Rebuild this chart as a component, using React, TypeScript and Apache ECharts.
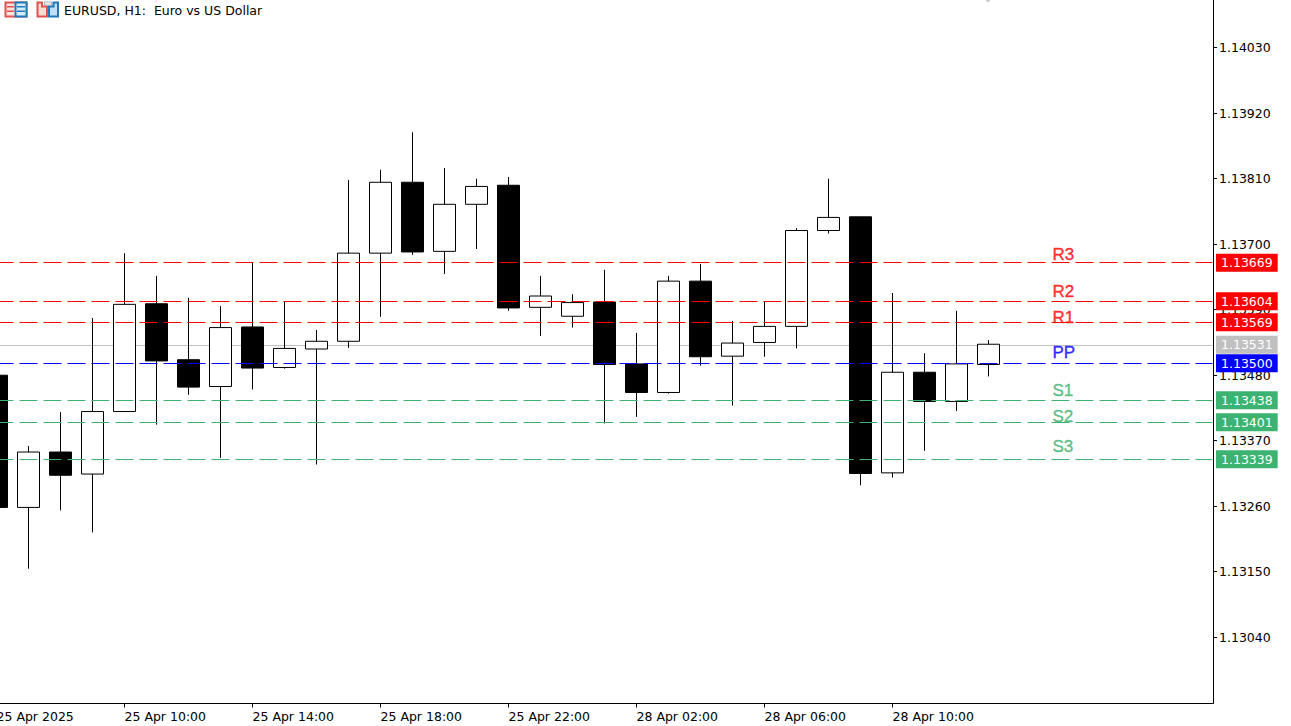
import React, { useEffect, useRef } from "react";
import * as echarts from "echarts";

const categories = [
  "25 Apr 2025", "25 Apr 07:00", "25 Apr 08:00", "25 Apr 09:00", "25 Apr 10:00", "25 Apr 11:00", "25 Apr 12:00", "25 Apr 13:00",
  "25 Apr 14:00", "25 Apr 15:00", "25 Apr 16:00", "25 Apr 17:00", "25 Apr 18:00", "25 Apr 19:00", "25 Apr 20:00", "25 Apr 21:00",
  "25 Apr 22:00", "25 Apr 23:00", "28 Apr 00:00", "28 Apr 01:00", "28 Apr 02:00", "28 Apr 03:00", "28 Apr 04:00", "28 Apr 05:00",
  "28 Apr 06:00", "28 Apr 07:00", "28 Apr 08:00", "28 Apr 09:00", "28 Apr 10:00", "28 Apr 11:00", "28 Apr 12:00", "28 Apr 13:00",
  "28 Apr 14:00", "28 Apr 15:00", "28 Apr 16:00", "28 Apr 17:00", "28 Apr 18:00", "28 Apr 19:00", "28 Apr 20:00",
];

const opens = [1.1348, 1.13258, 1.13351, 1.13314, 1.13419, 1.136, 1.13506, 1.13461, 1.13561, 1.13493, 1.13524, 1.13537, 1.13685, 1.13804, 1.13688, 1.13767, 1.13799, 1.13594, 1.13579, 1.13603, 1.13499, 1.13451, 1.13638, 1.13512, 1.13535, 1.13562, 1.13723, 1.13746, 1.13316, 1.13485, 1.13436, 1.13498];
const closes = [1.13258, 1.13351, 1.13312, 1.13419, 1.13599, 1.13504, 1.1346, 1.1356, 1.13492, 1.13525, 1.13537, 1.13685, 1.13804, 1.13687, 1.13767, 1.13797, 1.13593, 1.13613, 1.13602, 1.13498, 1.13451, 1.13638, 1.13511, 1.13534, 1.13562, 1.13723, 1.13745, 1.13315, 1.13485, 1.13436, 1.13499, 1.13532];
const lows = [1.1324, 1.13155, 1.13253, 1.13216, 1.13419, 1.13397, 1.13447, 1.13341, 1.13456, 1.13491, 1.1333, 1.13526, 1.13578, 1.13682, 1.1365, 1.13692, 1.13588, 1.13546, 1.1356, 1.13399, 1.1341, 1.13449, 1.13496, 1.13429, 1.13511, 1.13525, 1.13718, 1.13295, 1.13308, 1.13353, 1.1342, 1.13478];
const highs = [1.135, 1.13361, 1.13418, 1.13576, 1.13685, 1.13647, 1.1361, 1.13596, 1.1367, 1.13604, 1.13556, 1.13808, 1.13825, 1.13888, 1.13828, 1.1381, 1.13813, 1.13647, 1.13616, 1.13657, 1.13551, 1.13647, 1.13667, 1.13571, 1.13604, 1.13727, 1.1381, 1.13746, 1.13618, 1.13517, 1.13588, 1.13539];

const priceTicks = [1.1304, 1.1315, 1.1326, 1.1337, 1.1348, 1.1359, 1.137, 1.1381, 1.1392, 1.1403];
const yMin = 1.129287;
const yMax = 1.141101;

const currentPrice = 1.13531;
const pivotNames = ["R3", "R2", "R1", "PP", "S1", "S2", "S3"];
const pivotValues = [1.13669, 1.13604, 1.13569, 1.135, 1.13438, 1.13401, 1.13339];
const pivotColors = ["#ff0000", "#ff0000", "#ff0000", "#0000ff", "#3cb371", "#3cb371", "#3cb371"];
const pivotLabelPrices = [1.13683, 1.13621, 1.13577, 1.13518, 1.13455, 1.13411, 1.1336];
const pivotLabelIndex = 33;

const FONT = "'DejaVu Sans'";
const FONT_SIZE = 12.5;
const title = "EURUSD, H1:  Euro vs US Dollar";
const RED = "#e0524d";
const BLUE = "#1f78b8";

export default function App() {
  const ref = useRef<HTMLDivElement>(null);
  useEffect(() => {
    const chart = echarts.init(ref.current!, undefined, { renderer: "svg" });
    const showTick = (i: number) => i % 4 === 0 && i <= 28;
    const priceLabel = (color: string) => ({
      show: true,
      position: "end",
      distance: 3.5,
      formatter: (p: any) => Number(p.value).toFixed(5),
      color: "#ffffff",
      backgroundColor: color,
      padding: [3, 5, 2, 5],
      fontFamily: FONT,
      fontSize: FONT_SIZE,
    });
    chart.setOption({
      animation: false,
      backgroundColor: "#ffffff",
      grid: { left: -3.5, top: 0, width: 1216, height: 703.5, containLabel: false, outerBoundsMode: "none" },
      xAxis: {
        type: "category",
        data: categories,
        boundaryGap: false,
        axisLine: { lineStyle: { color: "#000000", width: 1 } },
        axisTick: { interval: (i: number) => showTick(i), length: 4, lineStyle: { color: "#000000" } },
        axisLabel: {
          interval: (i: number) => showTick(i),
          align: "left",
          margin: 6,
          color: "#000000",
          fontFamily: FONT,
          fontSize: FONT_SIZE,
          hideOverlap: false,
        },
        splitLine: { show: false },
      },
      yAxis: {
        type: "value",
        position: "right",
        offset: 0.5,
        min: yMin,
        max: yMax,
        scale: true,
        axisLine: { show: true, onZero: false, lineStyle: { color: "#000000", width: 1 } },
        axisTick: { show: true, length: 4, customValues: priceTicks, lineStyle: { color: "#000000" } },
        axisLabel: {
          customValues: priceTicks,
          formatter: (v: number) => v.toFixed(5),
          margin: 6,
          color: "#000000",
          fontFamily: FONT,
          fontSize: FONT_SIZE,
        },
        splitLine: { show: false },
      },
      graphic: [
        { type: "rect", z: 100, shape: { x: 5.5, y: 2.5, width: 21, height: 14 }, style: { fill: "#fde4de", stroke: RED, lineWidth: 2 } },
        { type: "rect", z: 101, shape: { x: 15.5, y: 2.5, width: 11, height: 14 }, style: { fill: "#d6ebfa", stroke: BLUE, lineWidth: 2 } },
        { type: "rect", z: 102, shape: { x: 7, y: 6, width: 7, height: 1.5 }, style: { fill: RED } },
        { type: "rect", z: 102, shape: { x: 7, y: 10.5, width: 7, height: 1.5 }, style: { fill: RED } },
        { type: "rect", z: 102, shape: { x: 17, y: 6, width: 8, height: 1.5 }, style: { fill: BLUE } },
        { type: "rect", z: 102, shape: { x: 17, y: 10.5, width: 8, height: 1.5 }, style: { fill: BLUE } },
        { type: "polygon", z: 100, shape: { points: [[37.5, 2.5], [42, 2.5], [42, 6.5], [47, 6.5], [47, 16.5], [37.5, 16.5]] }, style: { fill: "#fddcd2", stroke: RED, lineWidth: 2 } },
        { type: "polygon", z: 100, shape: { points: [[49, 6.5], [53.5, 6.5], [53.5, 2.5], [58, 2.5], [58, 16.5], [49, 16.5]] }, style: { fill: "#bfe0f7", stroke: BLUE, lineWidth: 2 } },
        { type: "rect", z: 101, shape: { x: 44.5, y: 2, width: 7, height: 3 }, style: { fill: "#f4f4f4", stroke: "#b0b0b0", lineWidth: 1 } },
        { type: "polygon", z: 100, shape: { points: [[985.5, 0], [990.5, 0], [988, 2.5]] }, style: { fill: "#c8c8c8" } },
        { type: "text", z: 100, style: { x: 64, y: 4, text: title, fill: "#000000", font: `${FONT_SIZE}px ${FONT}` } },
      ],
      series: [
        {
          type: "candlestick",
          z: 2,
          barWidth: 22,
          clip: true,
          itemStyle: { color: "#ffffff", color0: "#000000", borderColor: "#000000", borderColor0: "#000000", borderWidth: 1 },
          data: opens.map((o, i) => [o, closes[i], lows[i], highs[i]]),
        },
        {
          type: "line",
          name: "current",
          data: [],
          markLine: {
            silent: true,
            z: 1,
            precision: 5,
            symbol: "none",
            animation: false,
            lineStyle: { color: "#c0c0c0", type: "solid", width: 1 },
            label: priceLabel("#c0c0c0"),
            data: [{ yAxis: currentPrice }],
          },
        },
        ...pivotValues.map((v, i) => ({
          type: "line",
          name: pivotNames[i],
          data: [],
          markLine: {
            silent: true,
            z: 5,
            precision: 5,
            symbol: "none",
            animation: false,
            lineStyle: { color: pivotColors[i], type: [18, 6], dashOffset: 0.5, width: 1 },
            label: priceLabel(pivotColors[i]),
            data: [{ yAxis: v }],
          },
        })),
        {
          type: "scatter",
          z: 6,
          symbolSize: 0,
          silent: true,
          data: pivotNames.map((name, i) => ({
            name,
            value: [pivotLabelIndex, pivotLabelPrices[i]],
            label: {
              show: true,
              position: "right",
              distance: 0,
              formatter: name,
              color: pivotColors[i],
              fontFamily: "'Liberation Sans'",
              fontSize: 17,
              textBorderColor: pivotColors[i],
              textBorderWidth: 0.4,
            },
          })),
        },
      ],
    });
    return () => chart.dispose();
  }, []);
  return <div ref={ref} style={{ position: "absolute", left: 0, top: 0, width: 1291, height: 726 }} />;
}
